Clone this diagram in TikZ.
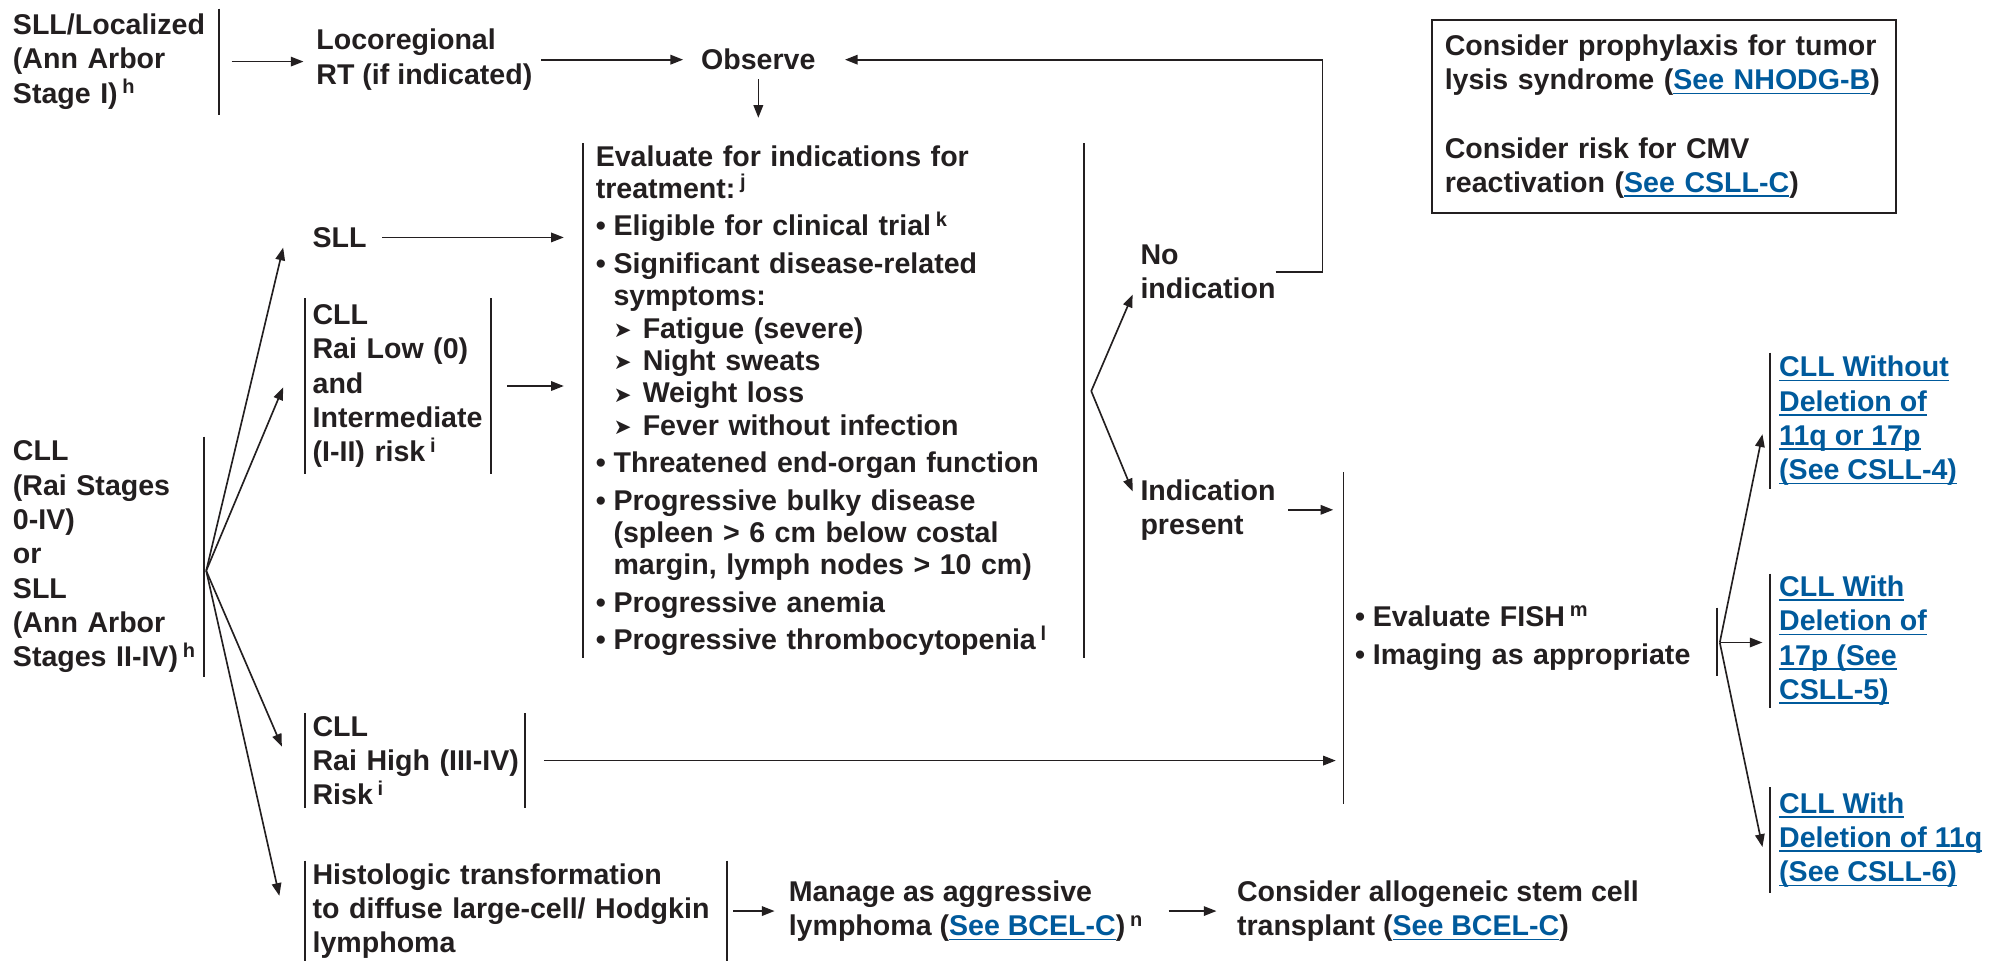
\documentclass[tikz,border=0pt]{standalone}
\usepackage{fontspec}
\setmainfont{Liberation Sans}
\newfontfamily\symfont{DejaVu Sans}
\usepackage{xcolor}
\usetikzlibrary{calc,positioning,arrows.meta}
\definecolor{NccnInk}{HTML}{231F20}
\definecolor{NccnLink}{HTML}{005A9C}
\newsavebox\lnkbox
\newcommand{\lnk}[1]{\textcolor{NccnLink}{\sbox\lnkbox{#1}\rlap{\rule[-3.5pt]{\wd\lnkbox}{1.2pt}}\usebox\lnkbox}}
\newcommand{\fnref}[1]{\,\textsuperscript{#1}}
\newcommand{\bul}{\makebox[14pt][l]{\textbullet}}
\newcommand{\indnt}{\hspace*{14pt}}
\newcommand{\subbul}{\hspace*{14pt}\makebox[23pt][l]{\raisebox{0.5pt}{\symfont\fontsize{17}{17}\selectfont ➤}}}

\begin{document}
\begin{tikzpicture}[
  x=1pt,y=-1pt,
  txt/.style={font=\fontsize{22.5}{27}\selectfont\bfseries,text=NccnInk,
    align=left,inner sep=0pt},
  grp/.style={txt,inner xsep=6pt,inner ysep=0pt},
  barline/.style={draw=NccnInk,line width=1.4pt},
  lbar/.style={append after command={(\tikzlastnode.north west) edge[barline] (\tikzlastnode.south west)}},
  rbar/.style={append after command={(\tikzlastnode.north east) edge[barline] (\tikzlastnode.south east)}},
  arr/.style={draw=NccnInk,line width=1.3pt,-{Triangle[length=10pt,width=7.5pt]}}
]
\useasboundingbox (0,0) rectangle (1568,757);
\node[grp,rbar,text width=156pt,minimum height=83pt,anchor=west] (loc) at (4,48.5)
  {SLL/Localized\\(Ann Arbor\\Stage I)\fnref{h}};
\node[txt,anchor=west] (rt) at (249,47) {Locoregional\\RT (if indicated)};
\node[txt,anchor=west] (obs) at (552,47) {Observe};
\node[txt,draw=NccnInk,line width=1.6pt,text width=345pt,inner xsep=10pt,
  minimum height=152pt,anchor=north west] (note) at (1127,15)
  {Consider prophylaxis for tumor\\lysis syndrome (\lnk{See NHODG-B})\\[27pt]
   Consider risk for CMV\\reactivation (\lnk{See CSLL-C})};
\node[grp,rbar,text width=144pt,minimum height=189pt,anchor=west] (cll) at (4,438.5)
  {CLL\\(Rai Stages\\0-IV)\\or\\SLL\\(Ann Arbor\\Stages II-IV)\fnref{h}};
\node[txt,anchor=west] (sll) at (246,187) {SLL};
\node[grp,lbar,rbar,text width=134pt,minimum height=138pt,anchor=west] (low) at (240,304)
  {CLL\\Rai Low (0)\\and\\Intermediate\\(I-II) risk\fnref{i}};
\node[grp,lbar,rbar,text width=374pt,inner xsep=10pt,minimum height=405pt,anchor=west,
  font=\fontsize{22.5}{25.5}\selectfont\bfseries] (eval) at (459,315.5)
  {Evaluate for indications for\\
   treatment:\fnref{j}\\[4pt]
   \bul Eligible for clinical trial\fnref{k}\\[4pt]
   \bul Significant disease-related\\
   \indnt symptoms:\\
   \subbul Fatigue (severe)\\
   \subbul Night sweats\\
   \subbul Weight loss\\
   \subbul Fever without infection\\[4pt]
   \bul Threatened end-organ function\\[4pt]
   \bul Progressive bulky disease\\
   \indnt (spleen > 6 cm below costal\\
   \indnt margin, lymph nodes > 10 cm)\\[4pt]
   \bul Progressive anemia\\[4pt]
   \bul Progressive thrombocytopenia\fnref{l}};
\node[txt,anchor=west] (noind) at (898,214) {No\\indication};
\node[txt,anchor=west] (ind) at (898,401.5) {Indication\\present};
\node[grp,lbar,text width=276pt,inner xsep=9pt,minimum height=261pt,anchor=west] (fish) at (1058,502.5)
  {\bul Evaluate FISH\fnref{m}\\[3pt]\bul Imaging as appropriate};
\node[grp,lbar,inner xsep=7pt,minimum height=107pt,anchor=west] (del4) at (1394,331.5)
  {\lnk{CLL Without}\\\lnk{Deletion of}\\\lnk{11q or 17p}\\\lnk{(See CSLL-4)}};
\node[grp,lbar,inner xsep=7pt,minimum height=105pt,anchor=west] (del17) at (1394,504.5)
  {\lnk{CLL With}\\\lnk{Deletion of}\\\lnk{17p (See}\\\lnk{CSLL-5)}};
\node[grp,lbar,inner xsep=7pt,minimum height=83pt,anchor=west] (del11) at (1394,661.5)
  {\lnk{CLL With}\\\lnk{Deletion of 11q}\\\lnk{(See CSLL-6)}};
\node[grp,lbar,rbar,text width=161pt,minimum height=74pt,anchor=west] (high) at (240,599)
  {CLL\\\mbox{Rai High (III-IV)}\\Risk\fnref{i}};
\node[grp,lbar,rbar,text width=320pt,minimum height=79pt,anchor=west] (histo) at (240,717.5)
  {Histologic transformation\\to diffuse large-cell/ Hodgkin\\lymphoma};
\node[txt,anchor=west] (manage) at (621,717.5)
  {Manage as aggressive\\lymphoma (\lnk{See BCEL-C})\fnref{n}};
\node[txt,anchor=west] (allo) at (974,717.5)
  {Consider allogeneic stem cell\\transplant (\lnk{See BCEL-C})};
\coordinate (cllfan) at ([shift={(2,11)}]cll.east);
\coordinate (evalfan) at ([shift={(6,-7.5)}]eval.east);
\coordinate (fishfan) at ([shift={(2,3.5)}]fish.east);
\draw[barline] ([shift={(0,-24)}]fish.east) -- ([shift={(0,30)}]fish.east);
\draw[arr,shorten <=10pt,shorten >=10pt] (loc.east) -- (loc.east -| rt.west);
\draw[arr,shorten <=7pt,shorten >=14pt] (rt.east) -- (rt.east -| obs.west);
\draw[arr,shorten <=7pt,shorten >=20pt] (obs.south) -- (obs.south |- eval.north);
\draw[arr,shorten >=23pt] (noind.east) -- ++(37,0) |- (obs.east);
\draw[arr] (cllfan) -- ([shift={(-23,8)}]sll.west);
\draw[arr] (cllfan) -- ([shift={(-17,1)}]low.west);
\draw[arr] (cllfan) -- ([shift={(-18,-11)}]high.west);
\draw[arr] (cllfan) -- ([shift={(-20,-12)}]histo.west);
\draw[arr,shorten <=12pt,shorten >=15pt] (sll.east) -- (sll.east -| eval.west);
\draw[arr,shorten <=13pt,shorten >=15pt] (low.east) -- (low.east -| eval.west);
\draw[arr] (evalfan) -- ([shift={(-6,18)}]noind.west);
\draw[arr] (evalfan) -- ([shift={(-6,-14.5)}]ind.west);
\draw[arr,shorten <=10pt,shorten >=8pt] (ind.east) -- (ind.east -| fish.west);
\draw[arr,shorten <=15pt,shorten >=6pt] (high.east) -- (high.east -| fish.west);
\draw[arr] (fishfan) -- ([shift={(-6,10.5)}]del4.west);
\draw[arr,shorten >=6pt] (fishfan) -- (fishfan -| del17.west);
\draw[arr] (fishfan) -- ([shift={(-6,5.5)}]del11.west);
\draw[arr,shorten <=5pt,shorten >=11pt] (histo.east) -- (histo.east -| manage.west);
\draw[arr,shorten <=20pt,shorten >=16pt] (manage.east) -- (manage.east -| allo.west);
\end{tikzpicture}
\end{document}
